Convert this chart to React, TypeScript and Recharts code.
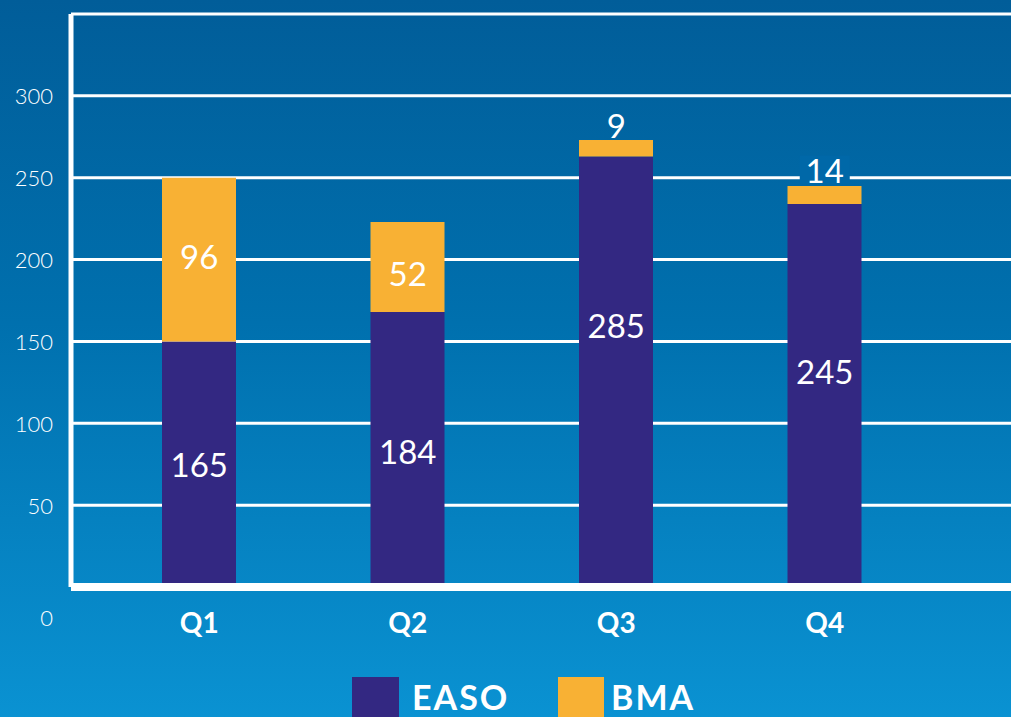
import { BarChart, Bar, XAxis, YAxis, CartesianGrid, Legend, ReferenceDot } from 'recharts'

const QUARTERS = ['Q1', 'Q2', 'Q3', 'Q4']
// bar heights as drawn (the printed labels do not match the axis)
const EASO_BAR = [150, 168, 263, 234]
const BMA_BAR = [100, 55, 10, 11]
const EASO_LABELS = ['165', '184', '285', '245']
const BMA_LABELS = ['96', '52', '9', '14']
// where on the value axis each label sits
const EASO_LABEL_AT = [75, 83, 160, 132]
const BMA_LABEL_AT = [202, 192, 282, 255]
const Y_TICKS = [0, 50, 100, 150, 200, 250, 300]

const EASO_COLOR = '#332882'
const BMA_COLOR = '#f8b134'
const FONT = 'Lato, "Open Sans", sans-serif'

const data = QUARTERS.map((q, i) => ({ q, easo: EASO_BAR[i], bma: BMA_BAR[i] }))

// a label above a bar cuts the gridline it sits on
const needsKnockout = (at: number, top: number) =>
  at > top && Y_TICKS.some((t) => Math.abs(t - at) < 10)

const YTick = ({ x, y, payload }: any) => (
  <text
    x={x}
    y={y + (payload.value === 0 ? 30 : 0)}
    textAnchor="end"
    dominantBaseline="central"
    fill="#fff"
    fontFamily={FONT}
    fontWeight={300}
    fontSize={22}
  >
    {payload.value}
  </text>
)

const XTick = ({ x, y, payload }: any) => (
  <text
    x={x}
    y={y + 33}
    textAnchor="middle"
    dominantBaseline="central"
    fill="#fff"
    fontFamily={FONT}
    fontWeight={700}
    fontSize={28}
  >
    {payload.value}
  </text>
)

const barLabel = (text: string, knockout: boolean) => (props: any) => {
  const { viewBox } = props
  const cx = viewBox.x + (viewBox.width || 0) / 2
  const cy = viewBox.y + (viewBox.height || 0) / 2
  const w = text.length * 18 + 14
  return (
    <g>
      {knockout && <rect x={cx - w / 2} y={cy - 14} width={w} height={28} fill="#0068a8" />}
      <text
        x={cx}
        y={cy}
        textAnchor="middle"
        dominantBaseline="central"
        fill="#fff"
        fontFamily={FONT}
        fontWeight={400}
        fontSize={33}
      >
        {text}
      </text>
    </g>
  )
}

const LegendBox = () => (
  <div style={{ position: 'relative', width: 1011, height: 50, fontFamily: FONT }}>
    <div style={{ position: 'absolute', left: 352, top: 10, width: 47, height: 45, background: EASO_COLOR }} />
    <div
      style={{ position: 'absolute', left: 412, top: 13, lineHeight: '34px', fontSize: 34, fontWeight: 700, color: '#fff', letterSpacing: 2 }}
    >
      EASO
    </div>
    <div style={{ position: 'absolute', left: 558, top: 10, width: 46, height: 45, background: BMA_COLOR }} />
    <div
      style={{ position: 'absolute', left: 611, top: 13, lineHeight: '34px', fontSize: 34, fontWeight: 700, color: '#fff', letterSpacing: 2 }}
    >
      BMA
    </div>
  </div>
)

export default function App() {
  return (
    <div
      style={{
        position: 'absolute',
        top: 0,
        left: 0,
        width: 1011,
        height: 717,
        overflow: 'hidden',
        background: 'linear-gradient(180deg, #015d99 0%, #0070ae 45%, #0a92d2 100%)',
      }}
    >
      <BarChart width={1011} height={717} data={data} margin={{ top: 14, right: 0, bottom: 0, left: 0 }}>
        <CartesianGrid vertical={false} stroke="#fff" strokeWidth={3} />
        <XAxis
          dataKey="q"
          padding={{ left: 24, right: 82 }}
          axisLine={{ stroke: '#fff', strokeWidth: 8 }}
          tickLine={false}
          tickSize={0}
          height={80}
          tick={<XTick />}
          interval={0}
        />
        <YAxis
          domain={[0, 350]}
          ticks={Y_TICKS}
          width={71}
          axisLine={{ stroke: '#fff', strokeWidth: 5 }}
          tickLine={false}
          tickSize={0}
          tickMargin={18}
          tick={<YTick />}
        />
        <Legend verticalAlign="bottom" height={50} wrapperStyle={{ left: 0, bottom: 0, width: 1011 }} content={<LegendBox />} />
        <Bar dataKey="easo" stackId="a" fill={EASO_COLOR} barSize={74} isAnimationActive={false} />
        <Bar dataKey="bma" stackId="a" fill={BMA_COLOR} barSize={74} isAnimationActive={false} />
        {QUARTERS.map((q, i) => (
          <ReferenceDot
            key={'e' + q}
            x={q}
            y={EASO_LABEL_AT[i]}
            r={0}
            stroke="none"
            fill="none"
            label={barLabel(EASO_LABELS[i], false)}
          />
        ))}
        {QUARTERS.map((q, i) => (
          <ReferenceDot
            key={'b' + q}
            x={q}
            y={BMA_LABEL_AT[i]}
            r={0}
            stroke="none"
            fill="none"
            label={barLabel(BMA_LABELS[i], needsKnockout(BMA_LABEL_AT[i], EASO_BAR[i] + BMA_BAR[i]))}
          />
        ))}
      </BarChart>
    </div>
  )
}
